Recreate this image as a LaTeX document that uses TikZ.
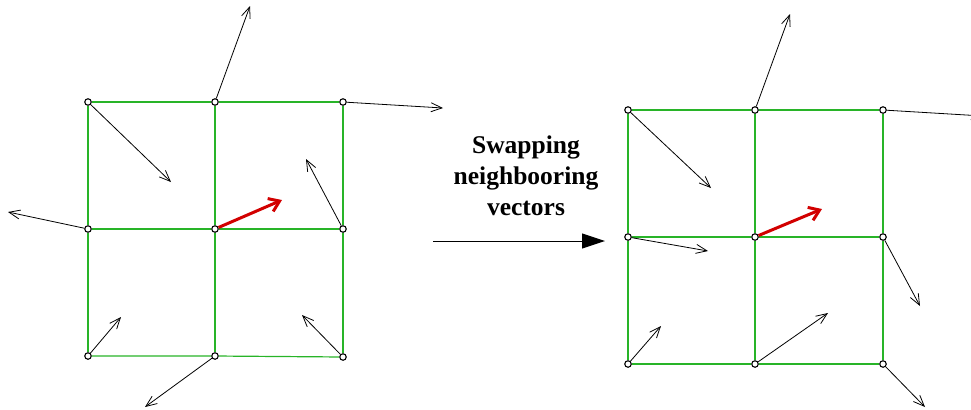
\documentclass[tikz,border=0pt]{standalone}
\usepackage{fontspec}
\setmainfont{Liberation Serif}
\usetikzlibrary{arrows.meta}
\definecolor{gridgreen}{RGB}{40,180,40}
\definecolor{vecred}{RGB}{210,0,0}
\tikzset{
  pt/.style={circle,draw=black,line width=1.1bp,inner sep=0pt,minimum size=6.5bp},
  gridline/.style={draw=gridgreen,line width=1.2bp},
  vec/.style={draw=black,line width=0.8bp,-{Straight Barb[length=11bp,width=9bp,line width=0.8bp]}},
  redvec/.style={draw=vecred,line width=3bp,-{Straight Barb[length=10bp,width=14bp,line width=3bp]}},
  bigarrow/.style={draw=black,line width=1bp,-{Triangle[length=23bp,width=15bp]}},
  lbl/.style={align=center,font=\bfseries\fontsize{25.5bp}{31bp}\selectfont}
}
\begin{document}
\begin{tikzpicture}[x=1bp,y=-1bp]
\clip (0,0) rectangle (971,409);
% left grid nodes
\node[pt] (L11) at (88,102) {};
\node[pt] (L12) at (215,102) {};
\node[pt] (L13) at (343,102) {};
\node[pt] (L21) at (88,229) {};
\node[pt] (L22) at (215,229) {};
\node[pt] (L23) at (343,229) {};
\node[pt] (L31) at (88,356) {};
\node[pt] (L32) at (215,356) {};
\node[pt] (L33) at (343,357) {};
% right grid nodes
\node[pt] (R11) at (628,110) {};
\node[pt] (R12) at (755,110) {};
\node[pt] (R13) at (883,110) {};
\node[pt] (R21) at (628,237) {};
\node[pt] (R22) at (755,237) {};
\node[pt] (R23) at (883,237) {};
\node[pt] (R31) at (628,364) {};
\node[pt] (R32) at (755,364) {};
\node[pt] (R33) at (883,364) {};
% grid lines
\foreach \g in {L,R}{
  \draw[gridline] (\g11) -- (\g12) -- (\g13);
  \draw[gridline] (\g21) -- (\g22) -- (\g23);
  \draw[gridline] (\g31) -- (\g32) -- (\g33);
  \draw[gridline] (\g11) -- (\g21) -- (\g31);
  \draw[gridline] (\g12) -- (\g22) -- (\g32);
  \draw[gridline] (\g13) -- (\g23) -- (\g33);
}
% left vector tips
\coordinate (l11) at (171,182);
\coordinate (l12) at (250,6);
\coordinate (l13) at (443,108);
\coordinate (l21) at (8,212);
\coordinate (l22) at (282,200);
\coordinate (l23) at (306,159);
\coordinate (l31) at (121,317);
\coordinate (l32) at (145,407);
\coordinate (l33) at (302,315);
% right vector tips
\coordinate (r11) at (711,188);
\coordinate (r12) at (790,14);
\coordinate (r13) at (983,116);
\coordinate (r21) at (708,251);
\coordinate (r22) at (822,209);
\coordinate (r23) at (920,306);
\coordinate (r31) at (661,326);
\coordinate (r32) at (828,313);
\coordinate (r33) at (925,407);
\foreach \n in {11,12,13,21,23,31,32,33}{
  \draw[vec] (L\n) -- (l\n);
  \draw[vec] (R\n) -- (r\n);
}
\draw[redvec] (L22) -- (l22);
\draw[redvec] (R22) -- (r22);
% label and big arrow
\node[lbl] (txt) at (526,176) {Swapping\\neighbooring\\vectors};
\coordinate (bs) at (433,241);
\coordinate (be) at (605,241);
\draw[bigarrow] (bs) -- (be);
\end{tikzpicture}
\end{document}
